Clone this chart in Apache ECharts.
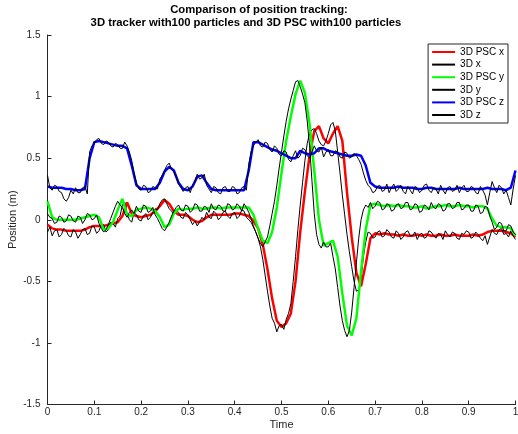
<!DOCTYPE html>
<html>
<head>
<meta charset="utf-8">
<script src="https://cdn.jsdelivr.net/npm/echarts@6/dist/echarts.min.js"></script>
<style>html,body{margin:0;padding:0;background:#fff;}#chart{width:518px;height:434px;}</style>
</head>
<body>
<div id="chart"></div>
<script>
// Time samples: PSC estimates every 0.01, tracker samples every 0.005
const time = Array.from({length: 101}, (_, i) => +(i * 0.01).toFixed(2));
const timeFine = Array.from({length: 201}, (_, i) => +(i * 0.005).toFixed(3));

const xTicks = [0, 0.1, 0.2, 0.3, 0.4, 0.5, 0.6, 0.7, 0.8, 0.9, 1];
const yTicks = [-1.5, -1, -0.5, 0, 0.5, 1, 1.5];

const pscX = [
-0.04,-0.07,-0.08,-0.08,-0.09,-0.09,-0.09,-0.09,-0.08,-0.06,
-0.05,-0.05,-0.05,-0.04,-0.03,-0.02,0.03,0.14,0.05,0.03,
0.02,0.03,0.04,0.07,0.11,0.16,0.13,0.07,0.04,0.04,
0.03,0.00,-0.02,-0.01,0.02,0.04,0.04,0.04,0.04,0.04,
0.05,0.05,0.04,0.03,-0.01,-0.07,-0.20,-0.40,-0.64,-0.82,
-0.87,-0.84,-0.76,-0.50,-0.10,0.23,0.52,0.72,0.76,0.66,
0.62,0.70,0.76,0.64,0.22,-0.14,-0.43,-0.54,-0.36,-0.15,
-0.11,-0.12,-0.11,-0.12,-0.12,-0.13,-0.12,-0.13,-0.13,-0.12,
-0.13,-0.12,-0.13,-0.13,-0.12,-0.13,-0.13,-0.12,-0.13,-0.13,
-0.13,-0.12,-0.13,-0.12,-0.10,-0.09,-0.09,-0.09,-0.10,-0.11,
-0.14];

const trackX = [
-0.10,-0.06,-0.13,-0.09,-0.08,-0.14,-0.12,-0.07,-0.09,-0.13,
-0.14,-0.08,-0.10,-0.15,-0.12,-0.08,-0.07,-0.12,-0.11,-0.05,
-0.06,-0.11,-0.09,-0.04,-0.04,-0.10,-0.08,-0.02,-0.03,-0.06,
0.01,0.03,0.12,0.14,0.05,0.00,-0.02,0.06,0.04,0.00,
-0.01,0.03,0.05,0.00,0.02,0.06,0.09,0.08,0.13,0.16,
0.17,0.13,0.09,0.07,0.04,0.08,0.06,0.02,0.01,0.06,
0.04,0.00,-0.04,-0.01,-0.05,-0.02,0.02,0.00,0.06,0.02,
0.01,0.07,0.05,0.00,0.02,0.06,0.07,0.03,0.01,0.05,
0.06,0.01,0.03,0.08,0.07,0.02,0.00,-0.02,-0.06,-0.10,
-0.15,-0.22,-0.32,-0.45,-0.58,-0.70,-0.80,-0.84,-0.91,-0.86,
-0.85,-0.89,-0.81,-0.76,-0.68,-0.50,-0.30,-0.08,0.12,0.30,
0.48,0.62,0.70,0.73,0.74,0.70,0.64,0.61,0.60,0.64,
0.70,0.77,0.79,0.72,0.55,0.38,0.20,0.04,-0.12,-0.26,
-0.38,-0.50,-0.58,-0.57,-0.48,-0.30,-0.18,-0.10,-0.11,-0.15,
-0.14,-0.10,-0.09,-0.14,-0.13,-0.08,-0.10,-0.14,-0.15,-0.09,
-0.11,-0.16,-0.14,-0.10,-0.09,-0.13,-0.13,-0.10,-0.16,-0.12,
-0.11,-0.15,-0.14,-0.09,-0.10,-0.13,-0.15,-0.11,-0.12,-0.16,
-0.09,-0.12,-0.14,-0.10,-0.11,-0.15,-0.16,-0.11,-0.12,-0.09,
-0.10,-0.15,-0.14,-0.10,-0.12,-0.15,-0.17,-0.13,-0.20,-0.14,
-0.08,-0.11,-0.12,-0.08,-0.07,-0.12,-0.11,-0.14,-0.09,-0.13,
-0.16];

const pscY = [
0.15,0.02,0.00,0.00,0.00,0.00,0.00,0.01,0.02,0.03,
0.04,0.02,-0.08,-0.07,-0.02,0.08,0.17,0.04,0.03,0.08,
0.09,0.10,0.09,0.07,0.02,-0.06,-0.04,0.05,0.09,0.08,
0.09,0.09,0.10,0.09,0.09,0.10,0.10,0.09,0.10,0.10,
0.10,0.10,0.10,0.10,0.04,-0.07,-0.17,-0.19,-0.10,0.10,
0.38,0.64,0.84,1.02,1.13,1.03,0.78,0.40,0.00,-0.21,
-0.19,-0.17,-0.30,-0.60,-0.86,-0.94,-0.80,-0.42,-0.08,0.12,
0.13,0.12,0.11,0.12,0.11,0.12,0.11,0.11,0.10,0.10,
0.11,0.09,0.10,0.11,0.11,0.12,0.11,0.11,0.12,0.11,
0.11,0.10,0.11,0.11,0.09,0.01,-0.05,-0.06,-0.06,-0.07,
-0.13];

const trackY = [
0.05,0.02,0.01,-0.03,-0.02,0.03,0.02,-0.02,-0.01,0.04,
0.03,-0.01,-0.02,0.03,0.02,-0.03,0.00,0.05,0.04,0.00,
0.01,0.04,-0.03,-0.07,-0.10,-0.08,-0.04,0.01,0.06,0.11,
0.15,0.12,0.10,0.05,0.02,0.06,0.08,0.05,0.11,0.07,
0.06,0.12,0.11,0.06,0.07,0.10,0.04,0.01,-0.03,-0.07,
-0.09,-0.06,-0.02,0.03,0.07,0.10,0.12,0.08,0.07,0.12,
0.11,0.06,0.08,0.13,0.12,0.07,0.07,0.11,0.10,0.06,
0.13,0.09,0.08,0.12,0.11,0.07,0.07,0.13,0.12,0.08,
0.09,0.13,0.11,0.07,0.13,0.10,0.06,0.01,-0.05,-0.10,
-0.15,-0.19,-0.22,-0.18,-0.14,-0.05,0.05,0.15,0.28,0.42,
0.55,0.68,0.80,0.90,0.98,1.05,1.12,1.13,1.08,1.02,
0.95,0.80,0.60,0.32,0.05,-0.12,-0.20,-0.23,-0.18,-0.22,
-0.22,-0.19,-0.30,-0.40,-0.55,-0.70,-0.82,-0.90,-0.95,-0.90,
-0.75,-0.55,-0.35,-0.15,0.00,0.08,0.12,0.10,0.14,0.09,
0.11,0.15,0.14,0.08,0.09,0.13,0.12,0.07,0.08,0.12,
0.13,0.09,0.10,0.14,0.14,0.08,0.09,0.13,0.12,0.06,
0.07,0.12,0.11,0.08,0.14,0.10,0.09,0.13,0.12,0.07,
0.08,0.13,0.13,0.09,0.10,0.14,0.14,0.08,0.09,0.12,
0.12,0.07,0.07,0.12,0.11,0.05,0.06,0.11,0.10,0.03,
-0.02,-0.08,-0.06,-0.02,-0.03,-0.09,-0.09,-0.04,-0.05,-0.10,
-0.12];

const pscZ = [
0.27,0.26,0.26,0.26,0.25,0.25,0.24,0.24,0.25,0.50,
0.63,0.64,0.63,0.62,0.61,0.60,0.60,0.58,0.44,0.28,
0.25,0.25,0.25,0.25,0.30,0.39,0.43,0.40,0.30,0.25,
0.24,0.27,0.35,0.36,0.30,0.25,0.24,0.24,0.24,0.24,
0.24,0.24,0.24,0.40,0.63,0.63,0.61,0.59,0.57,0.56,
0.54,0.52,0.50,0.50,0.56,0.54,0.53,0.54,0.58,0.58,
0.56,0.55,0.54,0.53,0.52,0.52,0.53,0.52,0.44,0.30,
0.27,0.26,0.26,0.26,0.26,0.27,0.26,0.26,0.26,0.25,
0.25,0.26,0.26,0.25,0.25,0.25,0.25,0.25,0.26,0.25,
0.25,0.25,0.25,0.25,0.26,0.25,0.25,0.25,0.24,0.26,
0.40];

const trackZ = [
0.36,0.26,0.24,0.28,0.27,0.23,0.22,0.17,0.15,0.18,
0.24,0.21,0.26,0.22,0.22,0.26,0.27,0.21,0.55,0.60,
0.62,0.65,0.66,0.62,0.61,0.64,0.63,0.60,0.59,0.62,
0.61,0.58,0.58,0.63,0.60,0.55,0.48,0.38,0.30,0.25,
0.24,0.28,0.27,0.22,0.23,0.27,0.26,0.25,0.33,0.36,
0.40,0.44,0.46,0.41,0.39,0.35,0.29,0.26,0.23,0.26,
0.27,0.22,0.28,0.31,0.37,0.33,0.34,0.37,0.28,0.25,
0.22,0.27,0.26,0.22,0.21,0.26,0.27,0.23,0.23,0.27,
0.26,0.21,0.22,0.26,0.27,0.24,0.45,0.55,0.60,0.63,
0.65,0.60,0.59,0.63,0.62,0.57,0.55,0.60,0.58,0.53,
0.52,0.56,0.55,0.49,0.47,0.52,0.56,0.50,0.52,0.58,
0.57,0.52,0.50,0.55,0.60,0.56,0.55,0.59,0.51,0.55,
0.57,0.52,0.52,0.56,0.55,0.51,0.50,0.55,0.54,0.50,
0.51,0.54,0.52,0.49,0.45,0.38,0.32,0.28,0.26,0.22,
0.23,0.27,0.28,0.23,0.24,0.29,0.22,0.26,0.29,0.23,
0.25,0.28,0.23,0.21,0.27,0.24,0.21,0.27,0.26,0.22,
0.24,0.28,0.29,0.24,0.22,0.26,0.25,0.21,0.28,0.24,
0.21,0.26,0.27,0.23,0.24,0.28,0.22,0.26,0.28,0.23,
0.23,0.27,0.26,0.22,0.21,0.27,0.24,0.20,0.12,0.22,
0.31,0.26,0.22,0.28,0.26,0.21,0.24,0.18,0.12,0.25,
0.36];

const seriesNames = ['3D PSC x', '3D x', '3D PSC y', '3D y', '3D PSC z', '3D z'];
const seriesValues = [pscX, trackX, pscY, trackY, pscZ, trackZ];
const seriesTimes = [time, timeFine, time, timeFine, time, timeFine];
const seriesColors = ['#ff0000', '#000000', '#00ff00', '#000000', '#0000ff', '#000000'];
const seriesWidths = [2.5, 1, 2.5, 1, 2.5, 1];

const titleLine1 = 'Comparison of position tracking:';
const titleLine2 = '3D tracker with100 particles and 3D PSC with100 particles';

const textColor = '#262626';
const font = 'Liberation Sans, Arial, Helvetica, sans-serif';
const titleStyle = {fontSize: 11.3, fontWeight: 'bold', color: '#000', fontFamily: font};

const chart = echarts.init(document.getElementById('chart'));
chart.setOption({
  animation: false,
  backgroundColor: '#ffffff',
  textStyle: {fontFamily: font},
  title: [
    {text: titleLine1, left: 259, top: 4, textAlign: 'center', padding: 0, textStyle: titleStyle},
    {text: titleLine2, left: 246, top: 17, textAlign: 'center', padding: 0, textStyle: titleStyle}
  ],
  legend: {
    orient: 'vertical', right: 10, top: 44,
    padding: [3, 4, 3, 3], itemWidth: 23, itemHeight: 10, itemGap: 2.6,
    borderColor: '#262626', borderWidth: 1, backgroundColor: '#fff',
    itemStyle: {opacity: 0},
    textStyle: {fontSize: 10, color: '#000', fontFamily: font},
    data: seriesNames
  },
  grid: {left: 47.5, right: 2.5, top: 35, bottom: 29.5, containLabel: false, outerBoundsMode: 'none'},
  xAxis: {
    type: 'value', min: 0, max: 1, interval: 0.1,
    name: 'Time', nameLocation: 'middle', nameGap: 15, nameMoveOverlap: false,
    nameTextStyle: {fontSize: 11, color: textColor},
    axisLine: {onZero: false, lineStyle: {color: textColor, width: 1}},
    axisTick: {inside: true, length: 4, lineStyle: {color: textColor}},
    axisLabel: {fontSize: 10, color: textColor, margin: 3,
      formatter: v => xTicks.includes(+v.toFixed(2)) ? String(+v.toFixed(2)) : ''},
    splitLine: {show: false}
  },
  yAxis: {
    type: 'value', min: -1.5, max: 1.5, interval: 0.5,
    name: 'Position (m)', nameLocation: 'middle', nameGap: 29, nameRotate: 90, nameMoveOverlap: false,
    nameTextStyle: {fontSize: 11, color: textColor},
    axisLine: {show: true, onZero: false, lineStyle: {color: textColor, width: 1}},
    axisTick: {show: true, inside: true, length: 4, lineStyle: {color: textColor}},
    axisLabel: {fontSize: 10, color: textColor, margin: 7,
      formatter: v => yTicks.includes(+v.toFixed(2)) ? String(+v.toFixed(2)) : ''},
    splitLine: {show: false}
  },
  series: seriesNames.map((n, k) => ({
    name: n, type: 'line', symbol: 'none', showSymbol: false,
    data: seriesTimes[k].map((t, i) => [t, seriesValues[k][i]]),
    lineStyle: {color: seriesColors[k], width: seriesWidths[k]},
    itemStyle: {color: seriesColors[k]},
    z: 2 + k
  }))
});
</script>
</body>
</html>
